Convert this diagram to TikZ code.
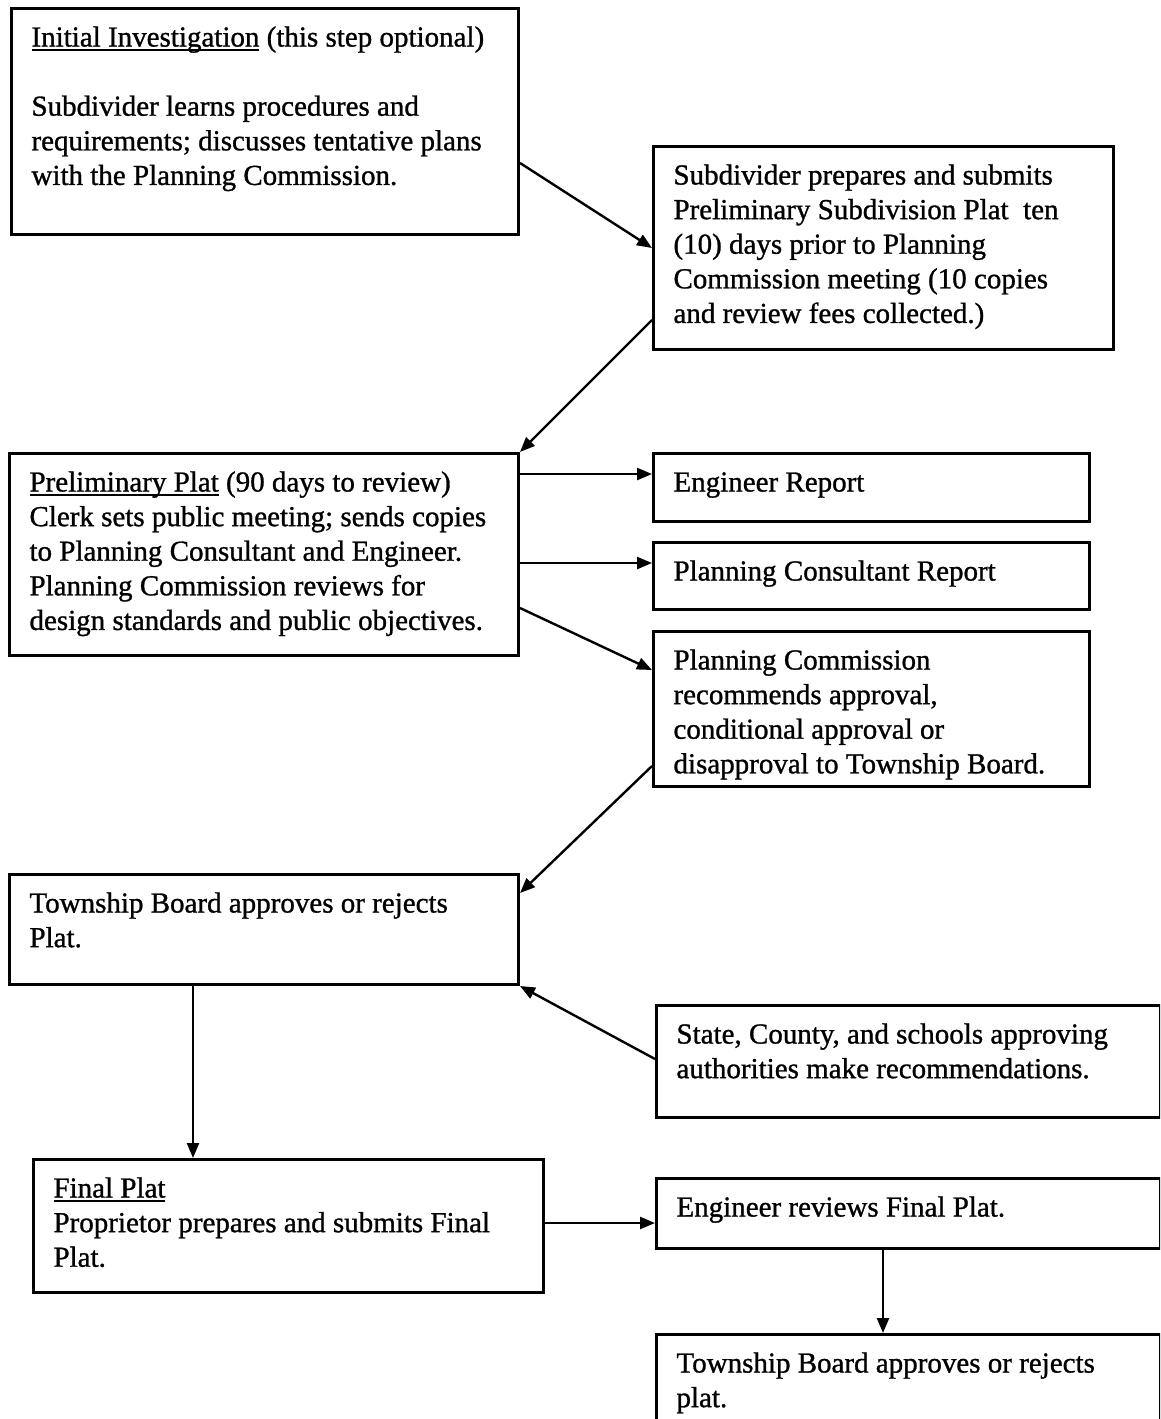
\documentclass[tikz,border=0pt]{standalone}
\usepackage{fontspec}
\setmainfont{Liberation Serif}[UprightFeatures={FakeBold=1}]
\usetikzlibrary{arrows.meta}
\newcommand\ulin[1]{\leavevmode\setbox0=\hbox{#1}\rlap{\rule[-4.5pt]{\wd0}{1.8pt}}\box0\relax}
\tikzset{
  fbox/.style={draw=black, line width=3pt, inner xsep=20pt, inner ysep=13.8pt, anchor=north west},
  conn/.style={line width=2.4pt, -{Triangle[length=15pt,width=12pt]}},
}
\newcommand\flowbox[6]{%
  \node[fbox] (#1) at (#2,#3) {\parbox[t][\dimexpr #5pt-27.6pt\relax][t]{\dimexpr #4pt-40pt\relax}{\fontsize{29}{34.6}\selectfont\raggedright\strut #6}};}
\begin{document}
\begin{tikzpicture}[x=1pt,y=-1pt]
\clip (0,0) rectangle (1160,1419);
\fill[white] (0,0) rectangle (1160,1419);
\flowbox{b1}{10}{7}{507}{226}{\ulin{Initial Investigation} (this step optional)\\[\baselineskip]
Subdivider learns procedures and\\ requirements; discusses tentative plans\\ with the Planning Commission.}
\flowbox{b2}{652}{145}{460}{203}{Subdivider prepares and submits\\ Preliminary Subdivision Plat\ \ ten\\ (10) days prior to Planning\\ Commission meeting (10 copies\\ and review fees collected.)}
\flowbox{b3}{8}{452}{509}{202}{\ulin{Preliminary Plat} (90 days to review)\\ Clerk sets public meeting; sends copies\\ to Planning Consultant and Engineer.\\ Planning Commission reviews for\\ design standards and public objectives.}
\flowbox{b4}{652}{452}{436}{68}{Engineer Report}
\flowbox{b5}{652}{541}{436}{67}{Planning Consultant Report}
\flowbox{b6}{652}{630}{436}{155}{Planning Commission\\ recommends approval,\\ conditional approval or\\ disapproval to Township Board.}
\flowbox{b7}{8}{873}{509}{110}{Township Board approves or rejects\\ Plat.}
\flowbox{b8}{655}{1004}{504}{112}{State, County, and schools approving\\ authorities make recommendations.}
\flowbox{b9}{32}{1158}{510}{133}{\ulin{Final Plat}\\ Proprietor prepares and submits Final\\ Plat.}
\flowbox{b10}{655}{1177}{504}{70}{\vspace*{3pt}Engineer reviews Final Plat.}
\flowbox{b11}{655}{1333}{504}{100}{Township Board approves or rejects\\ plat.}
% connectors
\draw[conn] ([yshift=-156pt]b1.north east) -- ([yshift=-103pt]b2.north west);
\draw[conn] ([yshift=-175pt]b2.north west) -- (b3.north east);
\draw[conn] ([yshift=-22pt]b3.north east) -- ([yshift=-22pt]b4.north west);
\draw[conn] ([yshift=-111pt]b3.north east) -- ([yshift=-22pt]b5.north west);
\draw[conn] ([yshift=-156pt]b3.north east) -- ([yshift=-40pt]b6.north west);
\draw[conn] ([yshift=-136pt]b6.north west) -- ([yshift=-20pt]b7.north east);
\draw[conn] ([yshift=-55pt]b8.north west) -- (b7.south east);
\draw[conn] ([xshift=185pt]b7.south west) -- ([xshift=161pt]b9.north west);
\draw[conn] ([yshift=-65pt]b9.north east) -- ([yshift=-46pt]b10.north west);
\draw[conn] ([xshift=228pt]b10.south west) -- ([xshift=228pt]b11.north west);
\end{tikzpicture}
\end{document}
